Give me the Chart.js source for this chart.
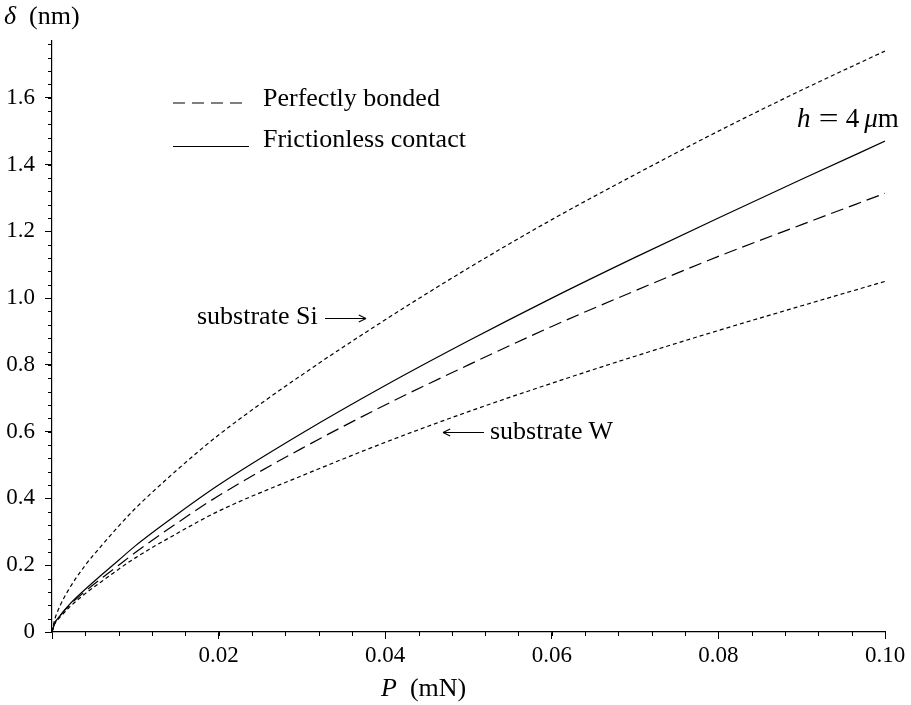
<!DOCTYPE html>
<html>
<head>
<meta charset="utf-8">
<script src="https://cdn.jsdelivr.net/npm/chart.js@4"></script>
<style>
body{margin:0;background:#fff;}
#wrap{position:relative;width:911px;height:705px;font-family:"Liberation Serif","Times New Roman",serif;color:#000;}
#wrap canvas{position:absolute;left:0;top:0;}
.t{position:absolute;font-size:26px;line-height:26px;white-space:nowrap;}
.sp{display:inline-block;width:10px;}
</style>
</head>
<body>
<div id="wrap">
<canvas id="chart" width="911" height="705"></canvas>
<div class="t" style="left:4px;top:3px"><i>δ</i>&nbsp;&nbsp;(nm)</div>
<div class="t" style="left:381px;top:675px"><i>P</i>&nbsp;&nbsp;(mN)</div>
<div class="t" style="left:263px;top:85px">Perfectly bonded</div>
<div class="t" style="left:263px;top:126px">Frictionless contact</div>
<div class="t" style="left:797px;top:105px;font-size:27px"><i>h</i><span class="sp"></span><span style="display:inline-block;transform:scaleX(1.3)">=</span><span class="sp"></span>4<span style="display:inline-block;width:5px"></span><i>μ</i>m</div>
<div class="t" style="left:197px;top:303px">substrate Si</div>
<div class="t" style="left:490px;top:418px">substrate W</div>
</div>
<script>
// load P (mN)
var pLoad = [0, 0.0003, 0.001, 0.002, 0.004, 0.006, 0.008, 0.01, 0.015, 0.02, 0.03, 0.04, 0.05, 0.06, 0.07, 0.08, 0.09, 0.10];

// indentation depth (nm)
var siVals       = [0, 0.035, 0.08, 0.127, 0.20, 0.26, 0.317, 0.37, 0.485, 0.59, 0.77, 0.935, 1.09, 1.235, 1.37, 1.50, 1.623, 1.74];
var frictionless = [0, 0.025, 0.05, 0.08, 0.128, 0.172, 0.215, 0.258, 0.352, 0.44, 0.595, 0.738, 0.872, 1.0, 1.122, 1.24, 1.356, 1.47];
var bonded       = [0, 0.025, 0.05, 0.078, 0.122, 0.162, 0.20, 0.238, 0.326, 0.408, 0.55, 0.68, 0.80, 0.915, 1.022, 1.125, 1.22, 1.314];
var wVals        = [0, 0.023, 0.045, 0.072, 0.115, 0.152, 0.188, 0.222, 0.295, 0.362, 0.468, 0.568, 0.66, 0.745, 0.826, 0.903, 0.977, 1.05];

var xMajor = [0, 0.02, 0.04, 0.06, 0.08, 0.10];
var yMajor = [0, 0.2, 0.4, 0.6, 0.8, 1.0, 1.2, 1.4, 1.6];
var xMinorStep = 0.004, yMinorStep = 0.04;
var xMax = 0.10, yMax = 1.77;

var serif = '"Liberation Serif","Times New Roman",serif';

function pts(vals){ return pLoad.map(function(p,i){ return {x:p, y:vals[i]}; }); }

function arrow(c, x1, y1, x2, y2){
  var a = Math.atan2(y2-y1, x2-x1);
  c.beginPath();
  c.moveTo(x1,y1); c.lineTo(x2,y2);
  c.moveTo(x2,y2); c.lineTo(x2-8*Math.cos(a-0.45), y2-8*Math.sin(a-0.45));
  c.moveTo(x2,y2); c.lineTo(x2-8*Math.cos(a+0.45), y2-8*Math.sin(a+0.45));
  c.stroke();
}

// minor ticks, legend samples and arrows
var extras = {
  id:'extras',
  afterDraw: function(chart){
    var c = chart.ctx, xs = chart.scales.x, ys = chart.scales.y, area = chart.chartArea;
    c.save();
    c.strokeStyle = '#000';
    c.lineWidth = 1;
    for(var v = xMinorStep; v < xMax + 1e-9; v += xMinorStep){
      var px = Math.round(xs.getPixelForValue(v)) + 0.5;
      c.beginPath(); c.moveTo(px, area.bottom); c.lineTo(px, area.bottom + 4); c.stroke();
    }
    for(var w = yMinorStep; w < yMax; w += yMinorStep){
      var py = Math.round(ys.getPixelForValue(w)) + 0.5;
      c.beginPath(); c.moveTo(area.left - 4, py); c.lineTo(area.left, py); c.stroke();
    }
    // legend samples
    c.lineWidth = 1.2;
    c.setLineDash([12,7]);
    c.beginPath(); c.moveTo(173, 103); c.lineTo(249, 103); c.stroke();
    c.setLineDash([]);
    c.beginPath(); c.moveTo(173, 146.5); c.lineTo(249, 146.5); c.stroke();
    // arrows
    c.lineWidth = 1.1;
    arrow(c, 325, 318.5, 366, 318.5);
    arrow(c, 484, 432.5, 443, 432.5);
    c.restore();
  }
};

var tickFont = {family: serif, size: 23};

new Chart(document.getElementById('chart'), {
  type: 'line',
  data: {
    datasets: [
      {label:'substrate Si', data: pts(siVals), borderDash:[4,3]},
      {label:'Frictionless contact', data: pts(frictionless)},
      {label:'Perfectly bonded', data: pts(bonded), borderDash:[13,6]},
      {label:'substrate W', data: pts(wVals), borderDash:[4,3]}
    ]
  },
  options: {
    responsive: false,
    animation: false,
    elements: {
      point: {radius: 0},
      line: {borderColor:'#000', borderWidth:1.2, cubicInterpolationMode:'monotone', fill:false}
    },
    plugins: {legend:{display:false}, tooltip:{enabled:false}},
    layout: {padding:{left:0, right:26, top:41, bottom:0}},
    scales: {
      x: {
        type: 'linear', min: 0, max: xMax,
        afterFit: function(s){ s.height = 73; },
        afterBuildTicks: function(s){ s.ticks = xMajor.map(function(v){ return {value:v}; }); },
        ticks: {
          font: tickFont, color:'#000', padding:3, maxRotation:0, autoSkip:false,
          callback: function(v){ return v === 0 ? '' : v.toFixed(2); }
        },
        grid: {drawOnChartArea:false, tickLength:7, color:'#000', lineWidth:1},
        border: {color:'#000', width:1.2}
      },
      y: {
        type: 'linear', min: 0, max: yMax,
        afterFit: function(s){ s.width = 52; },
        afterBuildTicks: function(s){ s.ticks = yMajor.map(function(v){ return {value:v}; }); },
        ticks: {
          font: tickFont, color:'#000', padding:10, autoSkip:false,
          callback: function(v){ return v === 0 ? '0' : v.toFixed(1); }
        },
        grid: {drawOnChartArea:false, tickLength:7, color:'#000', lineWidth:1},
        border: {color:'#000', width:1.2}
      }
    }
  },
  plugins: [extras]
});
</script>
</body>
</html>
